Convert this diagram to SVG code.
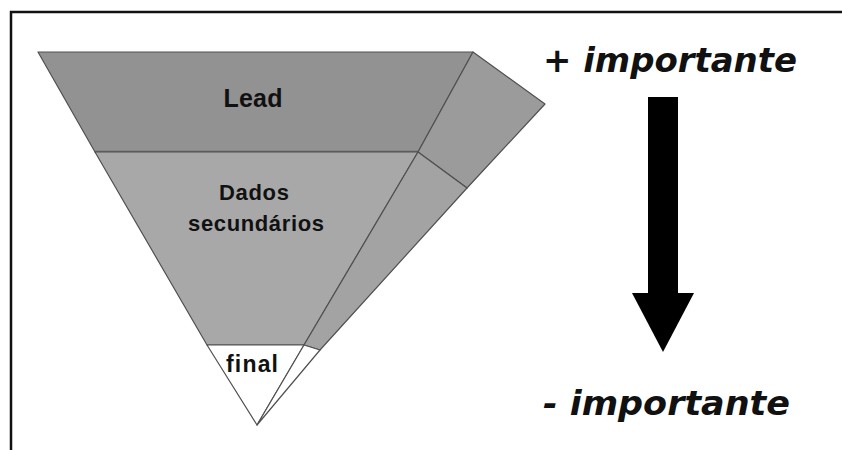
<svg xmlns="http://www.w3.org/2000/svg" width="842" height="450" viewBox="0 0 842 450">
<style>
.lbl{font-family:"Liberation Sans",Arial,sans-serif;font-weight:bold;fill:#111;text-anchor:middle}
.imp{font-family:"DejaVu Sans",Verdana,sans-serif;font-style:italic;font-weight:bold;fill:#111}
.edge{stroke:#505050;stroke-width:1.2;stroke-linejoin:round}
</style>
<rect x="0" y="0" width="842" height="450" fill="#fff"/>
<g id="frame" fill="none" stroke="#111" stroke-width="2.5">
<path d="M11 450 V12 H842"/>
</g>
<g id="lead">
<polygon class="edge" points="38,52 473,52 418,152 95,152" fill="#929292"/>
<line x1="95" y1="152" x2="418" y2="152" stroke="#666" stroke-width="2.5"/>
<text class="lbl" x="253" y="107" font-size="25" textLength="59">Lead</text>
</g>
<g id="lead-side">
<polygon class="edge" points="473,52 545,104 467,188 418,152" fill="#9b9b9b"/>
</g>
<g id="dados">
<polygon class="edge" points="95,152 418,152 304,345 207,345" fill="#a8a8a8"/>
<text class="lbl" x="254" y="200" font-size="22" textLength="70">Dados</text>
<text class="lbl" x="256" y="231" font-size="22" textLength="136">secundários</text>
</g>
<g id="dados-side">
<polygon class="edge" points="418,152 467,188 320,350 304,345" fill="#a3a3a3"/>
</g>
<g id="final">
<polygon class="edge" points="207,345 304,345 257,425" fill="#fff"/>
<text class="lbl" x="252" y="372" font-size="23" textLength="52">final</text>
</g>
<g id="final-side">
<polygon class="edge" points="304,345 320,350 257,425" fill="#fff"/>
</g>
<g id="connectors">
<rect x="648" y="97" width="30" height="197" fill="#000"/>
<polygon points="632,293 694,293 663,352" fill="#000"/>
</g>
<g id="top-label">
<text class="imp" x="543" y="72" font-size="34" textLength="254" lengthAdjust="spacingAndGlyphs">+ importante</text>
</g>
<g id="bottom-label">
<text class="imp" x="543" y="415" font-size="34" textLength="247" lengthAdjust="spacingAndGlyphs">- importante</text>
</g>
</svg>
